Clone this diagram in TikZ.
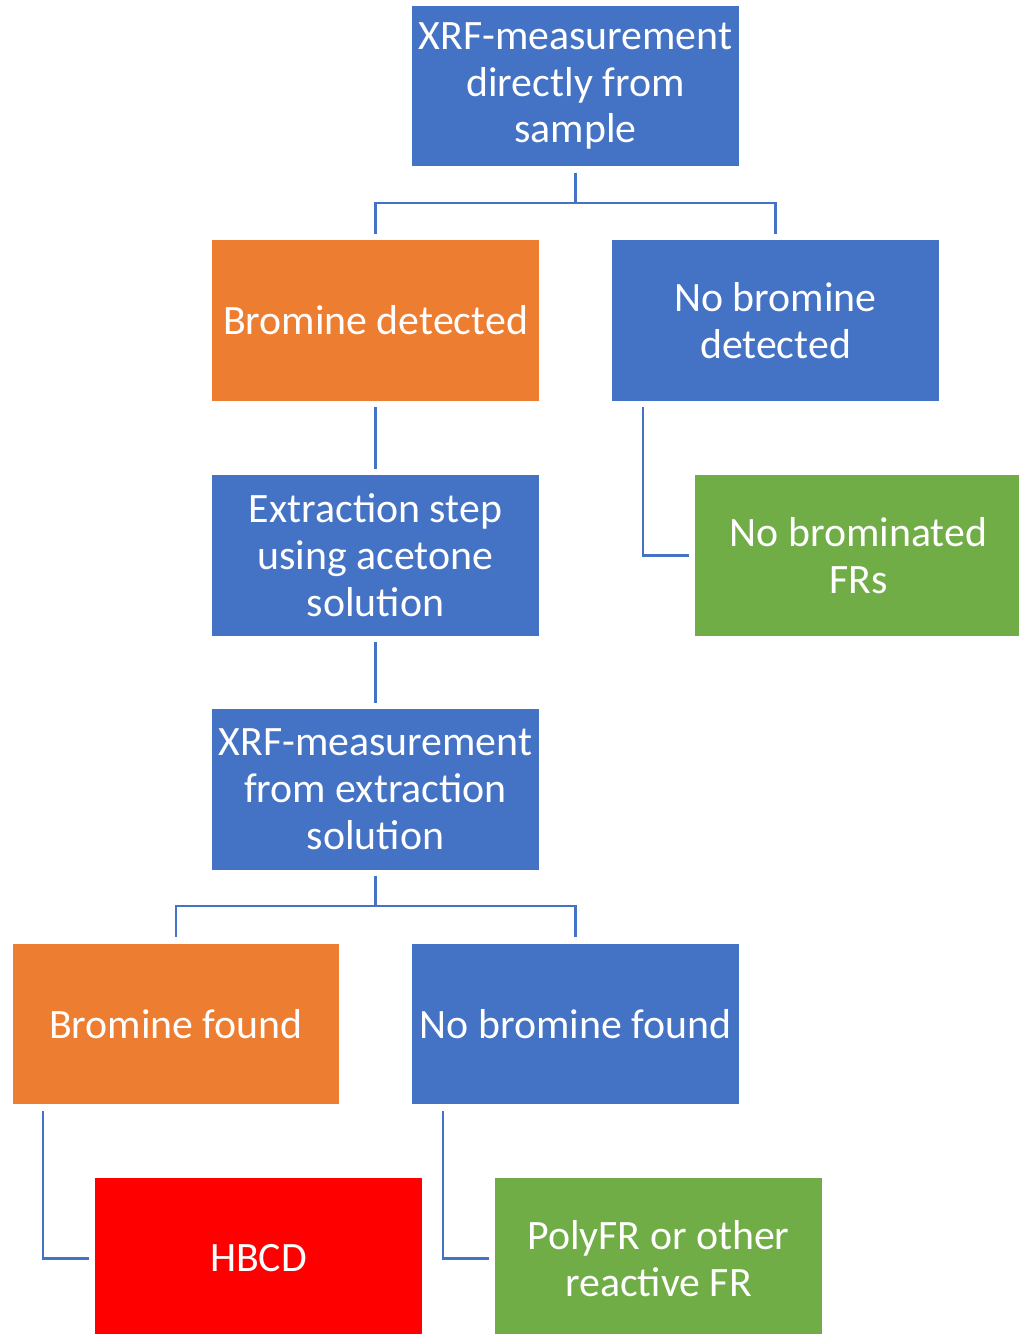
\documentclass[tikz,border=0pt]{standalone}
\usepackage{fontspec}
\setmainfont{Carlito}
\definecolor{cblue}{HTML}{4472C4}
\definecolor{corange}{HTML}{ED7D31}
\definecolor{cgreen}{HTML}{70AD47}
\definecolor{cred}{HTML}{FF0000}
\definecolor{cline}{HTML}{4472C4}
\begin{document}
\begin{tikzpicture}[x=0.02cm,y=-0.02cm,
  box/.style={minimum width=6.54cm,minimum height=3.22cm,inner sep=0pt,
    text=white,align=center,font=\fontsize{23.8}{26.7}\selectfont},
  bluebox/.style={box,fill=cblue},
  orangebox/.style={box,fill=corange},
  greenbox/.style={box,fill=cgreen},
  redbox/.style={box,fill=cred},
  conn/.style={draw=cline,line width=1.2pt,shorten <=3.5pt,shorten >=3.5pt}]
\useasboundingbox[fill=white] (0,0) rectangle (1018,1334);
\node[bluebox] (n1) at (575.5,86) {XRF-measurement\\directly from\\sample};
\node[orangebox] (n2) at (375.5,320.5) {Bromine detected};
\node[bluebox] (n3) at (775.5,320.5) {No bromine\\detected};
\node[bluebox] (n4) at (375.5,555.5) {Extraction step\\using acetone\\solution};
\node[greenbox] (n5) at (858.5,555.5) {No brominated\\FRs};
\node[bluebox] (n6) at (375.5,789.5) {XRF-measurement\\from extraction\\solution};
\node[orangebox] (n7) at (176,1024) {Bromine found};
\node[bluebox] (n8) at (575.5,1024) {No bromine found};
\node[redbox] (n9) at (258.5,1258.5) {HBCD};
\node[greenbox] (n10) at (658.5,1258.5) {PolyFR or other\\reactive FR};
\coordinate (j1) at (575.5,203);
\coordinate (j2) at (375.5,906);
\draw[conn,shorten >=0pt] (n1.south) -- (j1);
\draw[conn,shorten <=0pt] (j1) -| (n2.north);
\draw[conn,shorten <=0pt] (j1) -| (n3.north);
\draw[conn] (n2) -- (n4);
\coordinate (s3) at ([xshift=0.62cm]n3.south west);
\draw[conn] (s3) |- (n5.west);
\draw[conn] (n4) -- (n6);
\draw[conn,shorten >=0pt] (n6.south) -- (j2);
\draw[conn,shorten <=0pt] (j2) -| (n7.north);
\draw[conn,shorten <=0pt] (j2) -| (n8.north);
\coordinate (s7) at ([xshift=0.62cm]n7.south west);
\draw[conn] (s7) |- (n9.west);
\coordinate (s8) at ([xshift=0.62cm]n8.south west);
\draw[conn] (s8) |- (n10.west);
\end{tikzpicture}
\end{document}
